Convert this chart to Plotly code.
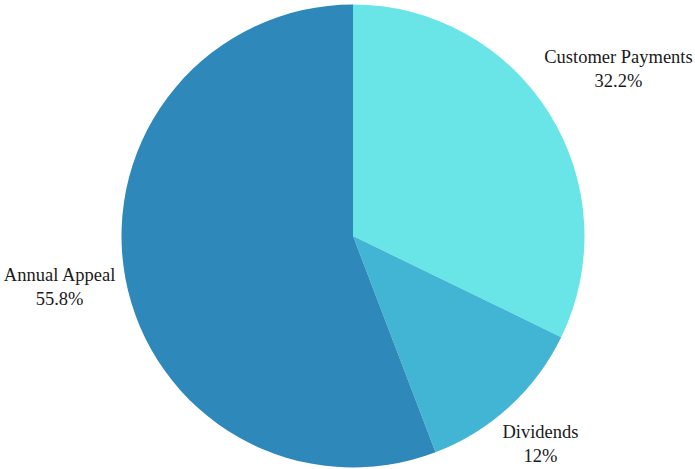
import plotly.graph_objects as go

labels = ["Customer Payments", "Dividends", "Annual Appeal"]
values = [32.2, 12.0, 55.8]
colors = ["#69e5e8", "#43b5d4", "#2e88ba"]

FONT = dict(family="Liberation Serif", size=18.5, color="#1a1a1a")

fig = go.Figure()
# the coloured pie
fig.add_trace(go.Pie(
    labels=labels,
    values=values,
    sort=False,
    direction="clockwise",
    rotation=0,
    textinfo="none",
    marker=dict(colors=colors, line=dict(width=0)),
    showlegend=False,
    automargin=False,
    hovertemplate="%{label}<br>%{percent}<extra></extra>",
    domain=dict(x=[0.0158, 1.0], y=[0.0032, 0.9904]),
))

# label layers: each shows the outside label of one slice of the same data
label_domains = [
    dict(x=[0.2885, 0.8885], y=[0.3620, 0.9867]),   # Customer Payments
    dict(x=[0.3293, 0.8293], y=[0.0060, 0.5668]),   # Dividends
    dict(x=[0.0754, 0.8754], y=[0.0275, 0.9124]),   # Annual Appeal
]
for i, dom in enumerate(label_domains):
    fig.add_trace(go.Pie(
        labels=labels,
        values=values,
        sort=False,
        direction="clockwise",
        rotation=0,
        textposition=["outside" if j == i else "none" for j in range(len(labels))],
        texttemplate="%{label}<br>%{percent:.3~p}",
        textfont=FONT,
        marker=dict(colors=["rgba(0,0,0,0)"] * len(labels), line=dict(width=0)),
        showlegend=False,
        automargin=False,
        hoverinfo="skip",
        domain=dom,
    ))

fig.update_layout(
    width=695, height=469,
    margin=dict(l=0, r=0, t=0, b=0, autoexpand=False),
    paper_bgcolor="white",
    plot_bgcolor="white",
)
fig.write_html(
    "out.html",
    config={"displayModeBar": False},
    post_script="document.body.style.margin='0';",
)
